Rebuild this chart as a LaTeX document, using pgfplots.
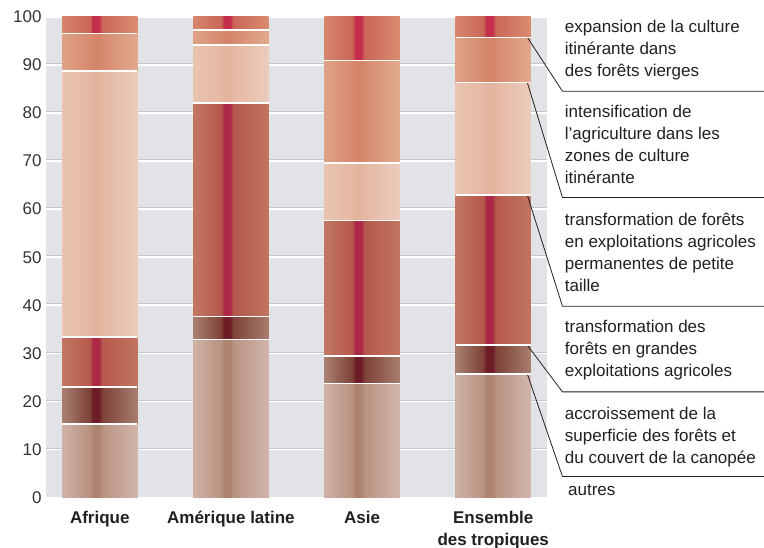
\documentclass[border=0pt]{standalone}
\usepackage{pgfplots}
\pgfplotsset{compat=1.18}
\usepackage{fontspec}
\setmainfont{Liberation Sans}
\definecolor{bg}{HTML}{E2E3E7}
\definecolor{shadowc}{HTML}{C5C7CD}
\definecolor{txtc}{HTML}{231F20}
\definecolor{tickc}{HTML}{333333}
% autres
\definecolor{aL}{HTML}{CFB2A6}\definecolor{aM}{HTML}{B89281}\definecolor{aD}{HTML}{AE8470}\definecolor{aR}{HTML}{D2B6AB}
% accroissement
\definecolor{cL}{HTML}{A98171}\definecolor{cM}{HTML}{7E4138}\definecolor{cD}{HTML}{6E1C26}\definecolor{cR}{HTML}{A77E6E}
% grandes
\definecolor{gL}{HTML}{C27761}\definecolor{gM}{HTML}{B6584C}\definecolor{gD}{HTML}{AC2846}\definecolor{gR}{HTML}{C07560}
% petite
\definecolor{pL}{HTML}{E9C4B0}\definecolor{pM}{HTML}{E5B8A3}\definecolor{pD}{HTML}{E3B39E}\definecolor{pR}{HTML}{EBCCBD}
% intensification
\definecolor{iL}{HTML}{DFA286}\definecolor{iM}{HTML}{D68A6E}\definecolor{iD}{HTML}{D4856A}\definecolor{iR}{HTML}{E1AA8E}
% expansion
\definecolor{eL}{HTML}{D6866C}\definecolor{eM}{HTML}{CA6658}\definecolor{eD}{HTML}{C42E4C}\definecolor{eR}{HTML}{DA8C70}
\newcommand\mkshade[2]{%
\pgfdeclarehorizontalshading{#1}{100bp}{color(0bp)=(#2L); color(25bp)=(#2L); color(43.5bp)=(#2M); color(45.5bp)=(#2D); color(49.5bp)=(#2D); color(51.5bp)=(#2M); color(75bp)=(#2R); color(100bp)=(#2R)}}
\mkshade{shA}{a}\mkshade{shC}{c}\mkshade{shG}{g}\mkshade{shP}{p}\mkshade{shI}{i}\mkshade{shE}{e}
% one bar segment = one single-point plot (so each gets its own shading)
\newcommand\seg[3]{\addplot[shade, shading=#1] coordinates {(#2,#3)};}
\begin{document}
\begin{tikzpicture}
\begin{axis}[
  scale only axis, width=501pt, height=481pt,
  xmin=-0.41, xmax=3.41, ymin=0, ymax=100,
  xtick={0,1,2,3},
  xticklabels={Afrique, Amérique latine, Asie, Ensemble\\des tropiques},
  ytick={0,10,20,30,40,50,60,70,80,90,100},
  axis background/.style={fill=bg},
  axis line style={draw=none},
  tick style={draw=none},
  major tick length=0pt,
  ymajorgrids, major grid style={white, line width=1.8pt},
  extra y ticks={10.3,20.3,30.3,40.3,50.3,60.3,70.3,80.3,90.3},
  extra y tick labels={},
  extra y tick style={ymajorgrids=true, major grid style={shadowc, line width=0.7pt}},
  /pgf/number format/assume math mode=true,
  yticklabel style={font=\fontsize{17}{20}\selectfont, text=tickc, xshift=-1pt},
  xticklabel style={font=\bfseries\fontsize{17}{22}\selectfont, align=center, text=txtc, yshift=-10pt},
  clip=false,
  every axis plot/.append style={ybar, bar width=0.575, bar shift=0pt, draw=none},
]
% cumulative tops of each segment, drawn top-down, all bars start at 0
% Afrique
\seg{shE}{0}{100}\seg{shI}{0}{96.5}\seg{shP}{0}{88.7}\seg{shG}{0}{33.4}\seg{shC}{0}{23.0}\seg{shA}{0}{15.3}
% Amerique latine
\seg{shE}{1}{100}\seg{shI}{1}{97.2}\seg{shP}{1}{94.1}\seg{shG}{1}{82.1}\seg{shC}{1}{37.7}\seg{shA}{1}{32.9}
% Asie
\seg{shE}{2}{100}\seg{shI}{2}{90.9}\seg{shP}{2}{69.6}\seg{shG}{2}{57.6}\seg{shC}{2}{29.5}\seg{shA}{2}{23.7}
% Ensemble des tropiques
\seg{shE}{3}{100}\seg{shI}{3}{95.7}\seg{shP}{3}{86.3}\seg{shG}{3}{62.9}\seg{shC}{3}{31.7}\seg{shA}{3}{25.7}
% white separators
\addplot[sharp plot, only marks, mark=-, mark size=37.7pt, mark options={white, line width=1.5pt}]
 coordinates {(0,96.5)(0,88.7)(0,33.4)(0,23.0)(0,15.3)(1,97.2)(1,94.1)(1,82.1)(1,37.7)(1,32.9)(2,90.9)(2,69.6)(2,57.6)(2,29.5)(2,23.7)(3,95.7)(3,86.3)(3,62.9)(3,31.7)(3,25.7)};
% leader lines
\begin{scope}[txtc, line width=0.8pt]
\draw (axis cs:3.26,95.7) -- (axis cs:3.528,84.5) -- (axis cs:5.1,84.5);
\draw (axis cs:3.26,86.3) -- (axis cs:3.528,62.4) -- (axis cs:5.1,62.4);
\draw (axis cs:3.26,62.9) -- (axis cs:3.528,39.8) -- (axis cs:5.1,39.8);
\draw (axis cs:3.26,31.7) -- (axis cs:3.528,22.0) -- (axis cs:5.1,22.0);
\draw (axis cs:3.26,25.7) -- (axis cs:3.528,4.4) -- (axis cs:5.1,4.4);
\end{scope}
\tikzset{lab/.style={anchor=north west, inner sep=0pt, align=left, font=\fontsize{17}{22}\selectfont, text=txtc}}
\node[lab] at (axis cs:3.545,99.3) {expansion de la culture\\itinérante dans\\des forêts vierges};
\node[lab] at (axis cs:3.545,81.6) {intensification de\\l’agriculture dans les\\zones de culture\\itinérante};
\node[lab] at (axis cs:3.545,59.2) {transformation de forêts\\en exploitations agricoles\\permanentes de petite\\taille};
\node[lab] at (axis cs:3.545,36.85) {transformation des\\forêts en grandes\\exploitations agricoles};
\node[lab] at (axis cs:3.545,18.84) {accroissement de la\\superficie des forêts et\\du couvert de la canopée};
\node[lab] at (axis cs:3.57,2.7) {autres};
\coordinate (BL) at (rel axis cs:0,0);
\coordinate (TR) at (rel axis cs:1,1);
\end{axis}
\pgfresetboundingbox
\path[use as bounding box] ([xshift=-46pt,yshift=-50pt]BL) rectangle ([xshift=217pt,yshift=16.7pt]TR);
\end{tikzpicture}
\end{document}
